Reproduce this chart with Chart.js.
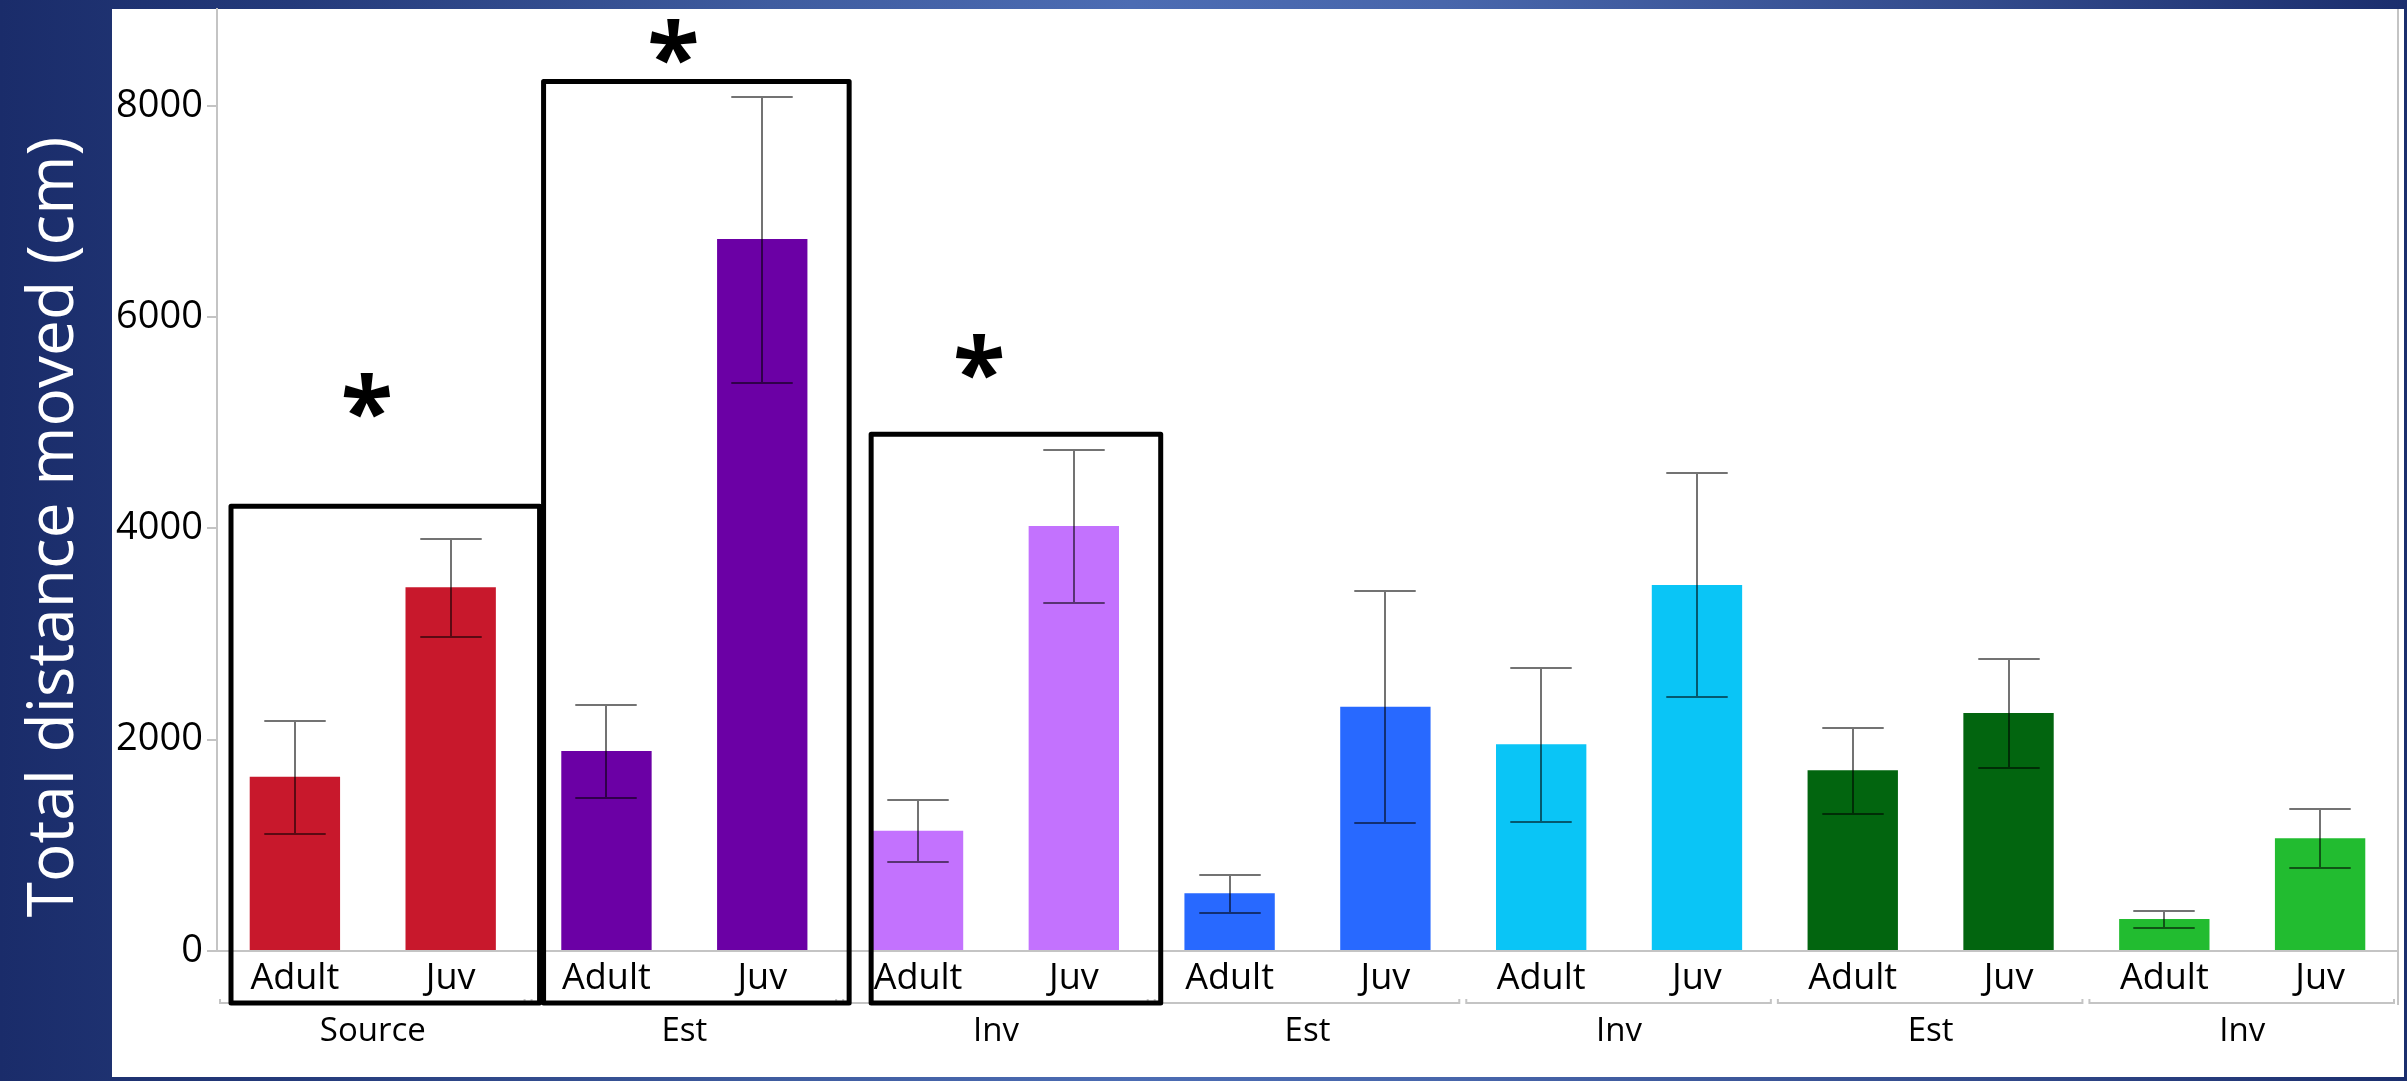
<!DOCTYPE html>
<html>
<head>
<meta charset="utf-8">
<script src="https://cdn.jsdelivr.net/npm/chart.js@4.4.1/dist/chart.umd.min.js"></script>
<style>
  html, body { margin: 0; padding: 0; }
  body {
    width: 2407px; height: 1081px; overflow: hidden;
    background: linear-gradient(90deg, #1a2c6a 0%, #243a7a 12%, #3f5c9f 32%, #4c6cb3 47%, #4866ab 60%, #334b8c 82%, #1b2e6d 100%);
  }
  canvas { position: absolute; left: 0; top: 0; }
</style>
</head>
<body>
<canvas id="chart" width="2407" height="1081"></canvas>
<script>
// Age class of each bar, and the population it belongs to (two bars per population)
const categories = ['Adult', 'Juv', 'Adult', 'Juv', 'Adult', 'Juv', 'Adult', 'Juv', 'Adult', 'Juv', 'Adult', 'Juv', 'Adult', 'Juv'];
const groups = ['Source', 'Est', 'Inv', 'Est', 'Inv', 'Est', 'Inv'];

// Mean total distance moved (cm) and the ends of its error bar
const meanDistance = [1650, 3442, 1893, 6738, 1139, 4022, 546, 2312, 1956, 3464, 1710, 2252, 303, 1066];
const lowerBound   = [1104, 2975, 1445, 5379,  844, 3298, 363, 1208, 1221, 2401, 1297, 1732, 221,  788];
const upperBound   = [2180, 3896, 2325, 8085, 1433, 4745, 719, 3404, 2678, 4521, 2114, 2766, 379, 1344];

// Y axis tick values
const yTickValues = [0, 2000, 4000, 6000, 8000];

// Populations whose adult/juvenile difference is significant
const significantGroups = [0, 1, 2];

// ---- styling ----
const barColors = ['#c8182c', '#c8182c', '#6b00a5', '#6b00a5', '#c372fe', '#c372fe',
                   '#2869ff', '#2869ff', '#0ac5f6', '#0ac5f6', '#02650f', '#02650f', '#22bc30', '#22bc30'];
const FONT = '"Open Sans", "Noto Sans", sans-serif';
const PANEL = { left: 112, top: 9, right: 2404, bottom: 1077 };
const AXIS_GREY = '#c4c4c4';
const BRACKET_Y = 1003;
// highlight boxes: top edge (in data units), horizontal insets from group edges (px), star placement
const highlightStyle = [
  { top: 4210, padL: 14, padR: 11, star: 5253, starDx: -6 },
  { top: 8230, padL: 15, padR: 9,  star: 8612, starDx: -11 },
  { top: 4890, padL: 31, padR: 9,  star: 5622, starDx: -17 }
];

const backdropPlugin = {
  id: 'backdrop',
  beforeDraw(chart) {
    const ctx = chart.ctx;
    ctx.save();
    ctx.fillStyle = '#ffffff';
    ctx.fillRect(PANEL.left, PANEL.top, PANEL.right - PANEL.left, PANEL.bottom - PANEL.top);
    // axis title on the blue side band
    ctx.translate(73, 527);
    ctx.rotate(-Math.PI / 2);
    ctx.font = '64px ' + FONT;
    ctx.fillStyle = '#ffffff';
    ctx.textAlign = 'center';
    ctx.textBaseline = 'alphabetic';
    ctx.fillText('Total distance moved (cm)', 0, 0);
    ctx.restore();
  }
};

const errorBarPlugin = {
  id: 'errorBars',
  afterDatasetsDraw(chart) {
    const ctx = chart.ctx;
    const y = chart.scales.y;
    const meta = chart.getDatasetMeta(0);
    ctx.save();
    ctx.strokeStyle = 'rgba(0,0,0,0.55)';
    ctx.lineWidth = 2;
    meta.data.forEach((bar, i) => {
      const half = bar.width * 0.34;
      const yt = Math.round(y.getPixelForValue(upperBound[i]));
      const yb = Math.round(y.getPixelForValue(lowerBound[i]));
      const x = Math.round(bar.x);
      ctx.beginPath();
      ctx.moveTo(x, yt); ctx.lineTo(x, yb);
      ctx.moveTo(x - half, yt); ctx.lineTo(x + half, yt);
      ctx.moveTo(x - half, yb); ctx.lineTo(x + half, yb);
      ctx.stroke();
    });
    ctx.restore();
  }
};

const groupAxisPlugin = {
  id: 'groupAxis',
  afterDraw(chart) {
    const ctx = chart.ctx;
    const xs = chart.scales.x, ys = chart.scales.y;
    const cw = xs.width / categories.length;
    ctx.save();
    // right frame line of the plot
    ctx.strokeStyle = AXIS_GREY;
    ctx.lineWidth = 2;
    ctx.beginPath();
    ctx.moveTo(xs.right, PANEL.top);
    ctx.lineTo(xs.right, BRACKET_Y + 2);
    ctx.stroke();
    // nested group brackets and names
    groups.forEach((g, gi) => {
      const l = xs.left + cw * 2 * gi;
      const r = l + cw * 2;
      ctx.strokeStyle = AXIS_GREY;
      ctx.lineWidth = 2;
      ctx.beginPath();
      ctx.moveTo(l + 3, BRACKET_Y - 4);
      ctx.lineTo(l + 3, BRACKET_Y);
      ctx.lineTo(r - 4, BRACKET_Y);
      ctx.lineTo(r - 4, BRACKET_Y - 4);
      ctx.stroke();
      ctx.fillStyle = '#000';
      ctx.font = '33px ' + FONT;
      ctx.textAlign = 'center';
      ctx.textBaseline = 'alphabetic';
      ctx.fillText(g, (l + r) / 2, 1041);
    });
    // significance boxes with asterisks
    ctx.textAlign = 'left';
    ctx.textBaseline = 'alphabetic';
    significantGroups.forEach((gi, k) => {
      const st = highlightStyle[k];
      const l = xs.left + cw * 2 * gi + st.padL;
      const r = xs.left + cw * 2 * (gi + 1) + st.padR;
      const top = ys.getPixelForValue(st.top);
      ctx.strokeStyle = '#000';
      ctx.lineWidth = 5;
      ctx.lineJoin = 'round';
      ctx.strokeRect(l, top, r - l, BRACKET_Y - top);
      // asterisk sized to a 46px glyph, centred on its spot
      ctx.font = 'bold 100px ' + FONT;
      let m = ctx.measureText('*');
      const h = m.actualBoundingBoxAscent + m.actualBoundingBoxDescent;
      const size = 100 * 46 / h;
      ctx.font = 'bold ' + size + 'px ' + FONT;
      m = ctx.measureText('*');
      const cx = xs.left + cw * (2 * gi + 1) + st.starDx;
      const cy = ys.getPixelForValue(st.star);
      const gx = cx - (m.actualBoundingBoxRight - m.actualBoundingBoxLeft) / 2;
      const gy = cy + (m.actualBoundingBoxAscent - m.actualBoundingBoxDescent) / 2;
      ctx.fillStyle = '#000';
      ctx.fillText('*', gx, gy);
    });
    ctx.restore();
  }
};

new Chart(document.getElementById('chart'), {
  type: 'bar',
  data: {
    labels: categories,
    datasets: [{
      data: meanDistance,
      backgroundColor: barColors,
      borderWidth: 0,
      barPercentage: 0.58,
      categoryPercentage: 1
    }]
  },
  options: {
    responsive: false,
    animation: false,
    devicePixelRatio: 1,
    layout: { padding: { top: 9, right: 9, left: 0, bottom: 0 } },
    plugins: { legend: { display: false }, tooltip: { enabled: false } },
    scales: {
      x: {
        grid: { display: true, drawOnChartArea: false, drawTicks: false },
        border: { display: true, color: AXIS_GREY, width: 2 },
        ticks: { font: { family: FONT, size: 36 }, color: '#000', padding: 6, maxRotation: 0, autoSkip: false },
        afterFit(s) { s.height = 130; s.paddingLeft = 0; s.paddingRight = 0; }
      },
      y: {
        min: 0,
        max: 8915,
        grid: { drawOnChartArea: false, drawTicks: true, tickLength: 10, color: AXIS_GREY, lineWidth: 2 },
        border: { display: true, color: AXIS_GREY, width: 2 },
        ticks: { font: { family: FONT, size: 38 }, color: '#000', padding: 4, callback: v => String(v) },
        afterBuildTicks(s) { s.ticks = yTickValues.map(v => ({ value: v })); },
        afterFit(s) { s.width = 217; s.paddingTop = 0; s.paddingBottom = 0; }
      }
    }
  },
  plugins: [backdropPlugin, errorBarPlugin, groupAxisPlugin]
});
</script>
</body>
</html>
